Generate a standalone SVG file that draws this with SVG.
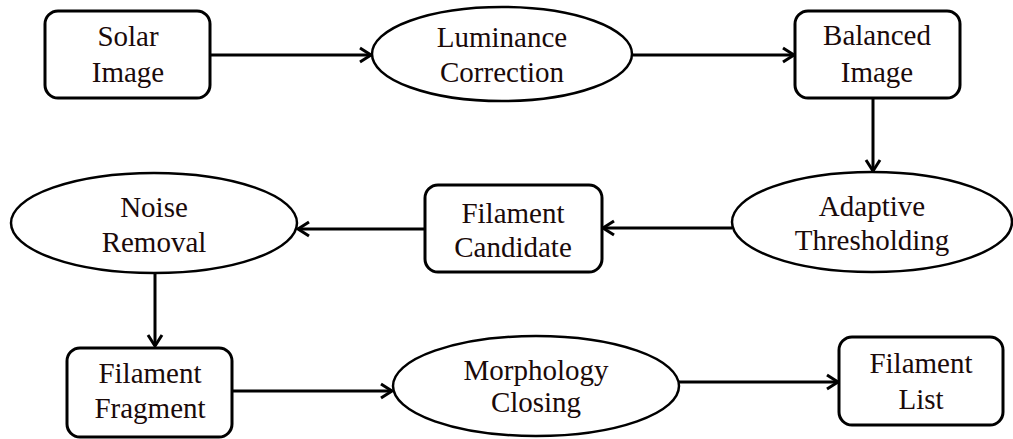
<svg xmlns="http://www.w3.org/2000/svg" width="1013" height="439" viewBox="0 0 1013 439">
<style>
.box{fill:#fff;stroke:#000;stroke-width:3}
.ell{fill:#fff;stroke:#000;stroke-width:2.5}
.lbl{font-family:"Liberation Serif","Times New Roman",serif;font-size:29px;fill:#1a0a0a;text-anchor:middle}
.edge{stroke:#000;stroke-width:3;fill:none;marker-end:url(#arr)}
</style>
<defs>
<marker id="arr" markerUnits="userSpaceOnUse" markerWidth="16" markerHeight="18" viewBox="-13 -9 16 18" refX="0" refY="0" orient="auto">
<path d="M-11,-7 L0,0 L-11,7" fill="none" stroke="#000" stroke-width="3" stroke-linejoin="miter"/>
</marker>
</defs>
<rect width="1013" height="439" fill="#fff"/>
<g id="connectors">
<line class="edge" x1="210" y1="55" x2="371" y2="55"/>
<line class="edge" x1="633" y1="55" x2="794" y2="55"/>
<line class="edge" x1="873" y1="98" x2="873" y2="171"/>
<line class="edge" x1="732" y1="228" x2="603" y2="228"/>
<line class="edge" x1="425" y1="229" x2="298" y2="229"/>
<line class="edge" x1="155" y1="273" x2="155" y2="346"/>
<line class="edge" x1="232" y1="391" x2="392" y2="391"/>
<line class="edge" x1="678" y1="382" x2="838" y2="382"/>
</g>
<g id="solar-image">
<rect class="box" x="45" y="11" width="165" height="87" rx="13"/>
<text class="lbl" x="128" y="46">Solar</text>
<text class="lbl" x="128" y="82">Image</text>
</g>
<g id="luminance-correction">
<ellipse class="ell" cx="502" cy="54" rx="130" ry="47"/>
<text class="lbl" x="502" y="47">Luminance</text>
<text class="lbl" x="502" y="82">Correction</text>
</g>
<g id="balanced-image">
<rect class="box" x="795" y="11" width="165" height="87" rx="13"/>
<text class="lbl" x="877" y="45">Balanced</text>
<text class="lbl" x="877" y="82">Image</text>
</g>
<g id="adaptive-thresholding">
<ellipse class="ell" cx="872" cy="222" rx="140" ry="50"/>
<text class="lbl" x="872" y="216">Adaptive</text>
<text class="lbl" x="872" y="250">Thresholding</text>
</g>
<g id="filament-candidate">
<rect class="box" x="425" y="185" width="177" height="87" rx="13"/>
<text class="lbl" x="513" y="223">Filament</text>
<text class="lbl" x="513" y="257">Candidate</text>
</g>
<g id="noise-removal">
<ellipse class="ell" cx="154" cy="223" rx="143" ry="50"/>
<text class="lbl" x="154" y="217">Noise</text>
<text class="lbl" x="154" y="252">Removal</text>
</g>
<g id="filament-fragment">
<rect class="box" x="67" y="348" width="165" height="89" rx="13"/>
<text class="lbl" x="150" y="383">Filament</text>
<text class="lbl" x="150" y="418">Fragment</text>
</g>
<g id="morphology-closing">
<ellipse class="ell" cx="536" cy="386" rx="143" ry="50"/>
<text class="lbl" x="536" y="380">Morphology</text>
<text class="lbl" x="536" y="412">Closing</text>
</g>
<g id="filament-list">
<rect class="box" x="839" y="337" width="164" height="88" rx="13"/>
<text class="lbl" x="921" y="373">Filament</text>
<text class="lbl" x="921" y="409">List</text>
</g>
</svg>
